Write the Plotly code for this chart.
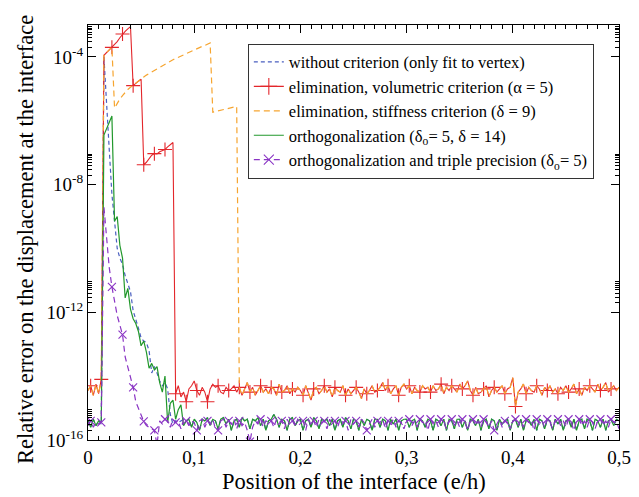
import plotly.graph_objects as go

# ---------------- data (log10 of relative error) ----------------
N_POINTS = 201
X_STEP = 0.0025
X = [round(X_STEP * i, 4) for i in range(N_POINTS)]

# noisy plateau of the two "elimination" variants (log10)
PLATEAU_LOG = [
    -14.45, -14.3, -14.6, -14.25, -14.55, -14.2, -14.35, -14.5, -14.4, -14.3,
    -14.5, -14.35, -14.6, -14.3, -14.45, -14.5, -14.25, -14.4, -14.55, -14.35,
    -14.4, -14.3, -14.5, -14.6, -14.35, -14.45, -14.3, -14.5, -14.4, -14.55,
    -14.4, -14.5, -14.45, -14.55, -14.3, -14.65, -14.5, -14.8, -14.4, -14.3,
    -14.15, -14.45, -14.6, -14.35, -14.5, -14.8, -14.4, -14.25, -14.35, -14.3,
    -14.5, -14.55, -14.35, -14.45, -14.4, -14.3, -14.5, -14.35, -14.6, -14.4,
    -14.2, -14.5, -14.35, -14.6, -14.45, -14.3, -14.5, -14.4, -14.55, -14.35,
    -14.4, -14.6, -14.25, -14.5, -14.45, -14.3, -14.55, -14.4, -14.5, -14.35,
    -14.45, -14.6, -14.3, -14.5, -14.75, -14.4, -14.35, -14.55, -14.45, -14.3,
    -14.5, -14.4, -14.65, -14.35, -14.45, -14.5, -14.3, -14.6, -14.4, -14.55,
    -14.45, -14.35, -14.5, -14.7, -14.4, -14.55, -14.45, -14.3, -14.5, -14.45,
    -14.35, -14.2, -14.45, -14.3, -14.55, -14.4, -14.3, -14.6, -14.35, -14.25,
    -14.4, -14.3, -14.55, -14.35, -14.45, -14.5, -14.3, -14.4, -14.35, -14.5,
    -14.3, -14.45, -14.4, -14.25, -14.55, -14.35, -14.45, -14.3, -14.4, -14.5,
    -14.25, -14.4, -14.3, -14.15, -14.45, -14.6, -14.35, -14.55, -14.5, -14.4,
    -14.3, -14.65, -14.45, -14.35, -14.5, -14.4, -14.3, -14.55, -14.4, -14.35,
    -14.05, -14.95, -14.5, -14.4, -14.25, -14.55, -14.35, -14.45, -14.5, -14.3,
    -14.4, -14.6, -14.35, -14.45, -14.3, -14.5, -14.4, -14.55, -14.35, -14.45,
    -14.3, -14.5, -14.4, -14.25, -14.55, -14.4, -14.6, -14.35, -14.45, -14.3,
    -14.4, -14.5, -14.25, -14.45, -14.35, -14.2, -14.5, -14.4, -14.3, -14.45,
    -14.35,
]

# noisy floor of the orthogonalization (green) / no criterion (blue)
GREEN_FLOOR_LOG = [
    -15.4, -15.6, -15.35, -15.55, -15.4, -15.45, -15.4, -15.35, -15.5, -15.4,
    -15.4, -15.35, -15.5, -15.4, -15.45, -15.4, -15.35, -15.5, -15.4, -15.45,
    -15.4, -15.35, -15.5, -15.4, -15.45, -15.4, -15.35, -15.5, -15.4, -15.45,
    -15.4, -15.35, -15.5, -15.4, -15.45, -15.4, -15.35, -15.4, -15.35, -15.6,
    -15.35, -15.45, -15.7, -15.35, -15.4, -15.3, -15.55, -15.35, -15.4, -15.65,
    -15.35, -15.3, -15.5, -15.35, -15.7, -15.4, -15.35, -15.6, -15.3, -15.4,
    -15.35, -15.65, -15.35, -15.4, -15.3, -15.55, -15.35, -15.7, -15.4, -15.35,
    -15.2, -15.35, -15.6, -15.35, -15.4, -15.7, -15.35, -15.3, -15.55, -15.4,
    -15.35, -15.7, -15.4, -15.35, -15.6, -15.3, -15.4, -15.65, -15.35, -15.4,
    -15.35, -15.55, -15.35, -15.7, -15.4, -15.35, -15.6, -15.3, -15.4, -15.65,
    -15.35, -15.4, -15.7, -15.35, -15.55, -15.35, -15.4, -15.7, -15.35, -15.35,
    -15.6, -15.35, -15.4, -15.7, -15.35, -15.5, -15.35, -15.7, -15.4, -15.35,
    -15.35, -15.6, -15.4, -15.35, -15.7, -15.35, -15.4, -15.6, -15.35, -15.4,
    -15.7, -15.35, -15.4, -15.55, -15.35, -15.7, -15.35, -15.4, -15.65, -15.35,
    -15.35, -15.6, -15.4, -15.7, -15.35, -15.4, -15.55, -15.35, -15.7, -15.4,
    -15.35, -15.65, -15.35, -15.4, -15.7, -15.35, -15.5, -15.4, -15.35, -15.7,
    -15.4, -15.35, -15.6, -15.35, -15.7, -15.4, -15.35, -15.55, -15.35, -15.7,
    -15.35, -15.4, -15.65, -15.35, -15.4, -15.7, -15.35, -15.5, -15.35, -15.7,
    -15.4, -15.35, -15.6, -15.35, -15.7, -15.4, -15.35, -15.65, -15.35, -15.4,
    -15.7, -15.35, -15.4, -15.6, -15.35, -15.7, -15.4, -15.35, -15.55, -15.35,
    -15.4,
]

# noisy floor of orthogonalization + triple precision (purple)
PURPLE_FLOOR_LOG = [
    -15.55, -15.4, -15.6, -15.45, -15.5, -15.45, -15.4, -15.5, -15.4, -15.45,
    -15.4, -15.5, -15.4, -15.45, -15.4, -15.5, -15.4, -15.45, -15.4, -15.5,
    -15.4, -15.45, -15.4, -15.5, -15.4, -15.45, -15.4, -15.4, -15.5, -15.35,
    -15.4, -15.6, -15.35, -15.45, -15.4, -15.65, -15.35, -15.4, -15.55, -15.4,
    -15.45, -15.7, -15.4, -15.35, -15.6, -15.4, -15.5, -15.35, -15.65, -15.7,
    -15.4, -15.35, -15.6, -15.4, -15.5, -15.35, -15.65, -15.4, -15.55, -15.45,
    -15.7, -16.05, -15.6, -15.4, -15.5, -15.35, -15.6, -15.4, -15.45, -15.4,
    -15.6, -15.35, -15.45, -15.4, -15.65, -15.35, -15.5, -15.4, -15.55, -15.35,
    -15.45, -15.4, -15.7, -15.35, -15.5, -15.4, -15.6, -15.35, -15.45, -15.4,
    -15.65, -15.35, -15.5, -15.4, -15.6, -15.35, -15.45, -15.4, -15.7, -15.35,
    -15.5, -15.4, -15.6, -15.35, -15.45, -15.7, -15.5, -15.35, -15.6, -15.4,
    -15.45, -15.35, -15.65, -15.4, -15.5, -15.35, -15.6, -15.4, -15.45, -15.65,
    -15.4, -15.35, -15.55, -15.4, -15.6, -15.35, -15.45, -15.4, -15.7, -15.35,
    -15.5, -15.4, -15.6, -15.35, -15.45, -15.65, -15.4, -15.35, -15.55, -15.4,
    -15.6, -15.35, -15.45, -15.7, -15.4, -15.35, -15.55, -15.4, -15.6, -15.35,
    -15.45, -15.6, -15.4, -15.7, -15.5, -15.35, -15.6, -15.4, -15.45, -15.65,
    -15.4, -15.35, -15.55, -15.4, -15.6, -15.35, -15.45, -15.4, -15.7, -15.35,
    -15.5, -15.4, -15.6, -15.35, -15.45, -15.65, -15.4, -15.35, -15.55, -15.4,
    -15.6, -15.35, -15.45, -15.7, -15.4, -15.35, -15.55, -15.4, -15.6, -15.35,
    -15.45, -15.65, -15.4, -15.35, -15.55, -15.4, -15.6, -15.35, -15.45, -15.4,
    -15.65,
]

# transient parts near the vertex, indices 5.. of the grid
RED_PEAK_LOG = [  # i = 5..32
    -14.1, -3.95, -3.87, -3.79, -3.7, -3.62, -3.52, -3.4, -3.28, -3.2,
    -3.12, -3.05, -4.9, -4.82, -4.76, -4.7, -7.38, -7.3, -7.2, -7.08,
    -7.03, -7.04, -6.97, -6.93, -6.9, -6.82, -6.75, -6.68,
]
ORANGE_PEAK_LOG = [  # i = 5..56
    -14.1, -3.95, -3.87, -3.79, -3.7,
    -5.6, -5.45, -5.32, -5.21, -5.11, -5.02, -4.95, -4.88, -4.81, -4.75,
    -4.69, -4.63, -4.57, -4.52, -4.47, -4.42, -4.37, -4.32, -4.27, -4.22,
    -4.18, -4.13, -4.09, -4.05, -4.01, -3.97, -3.93, -3.89, -3.85, -3.81,
    -3.77, -3.74, -3.71, -3.67, -3.64, -3.6, -3.56,
    -5.73, -5.71, -5.69, -5.67, -5.65, -5.63, -5.61, -5.59, -5.57, -5.55,
]
GREEN_PEAK_LOG = [  # i = 5..36
    -15.45, -6.45, -6.25, -6.05, -5.85, -9.15, -9.0, -9.9, -10.3, -11.55,
    -11.25, -11.9, -12.2, -12.35, -12.6, -13.05, -12.9, -13.25, -13.75, -13.6,
    -13.8, -13.7, -14.2, -14.5, -14.0, -15.45, -14.85, -14.75, -15.35, -15.05,
    -14.9, -15.55,
]
BLUE_PEAK_LOG = [  # i = 5..31
    -15.5, -4.0, -5.3, -6.9, -8.3, -9.2, -10.0, -10.3, -10.5, -10.85,
    -11.1, -11.35, -11.95, -12.2, -12.5, -12.8, -12.9, -12.95, -13.2, -13.9,
    -13.7, -13.9, -14.15, -14.3, -14.2, -14.4, -15.2,
]
PURPLE_PEAK_LOG = [  # i = 5..27
    -15.45, -8.7, -9.7, -10.6, -11.2, -11.65, -12.1, -12.4, -12.7, -13.4,
    -13.7, -14.0, -14.35, -14.8, -15.0, -15.25, -15.42, -15.55, -15.6, -15.65,
    -15.7, -16.15, -15.4,
]

X_TICKS = [0, 0.1, 0.2, 0.3, 0.4, 0.5]
X_TICK_TEXT = ["0", "0,1", "0,2", "0,3", "0,4", "0,5"]
Y_TICK_EXP = [-16, -12, -8, -4]

NAMES = [
    "without criterion (only fit to vertex)",
    "elimination, volumetric criterion (α = 5)",
    "elimination, stiffness criterion (δ = 9)",
    "orthogonalization (δ<sub>o</sub>= 5, δ = 14)",
    "orthogonalization and triple precision (δ<sub>o</sub>= 5)",
]
COLORS = ["#4a5fc0", "#e3262b", "#f6a530", "#22982c", "#8a34c4"]
X_TITLE = "Position of the interface (e/h)"
Y_TITLE = "Relative error on the displacement at the interface"


def assemble(base, peak, start):
    return base[:start] + peak + base[start + len(peak):]


def to_val(logs):
    return [10 ** v for v in logs]


red = to_val(assemble(PLATEAU_LOG, RED_PEAK_LOG, 5))
orange = to_val(assemble(PLATEAU_LOG, ORANGE_PEAK_LOG, 5))
green = to_val(assemble(GREEN_FLOOR_LOG, GREEN_PEAK_LOG, 5))
blue = to_val(assemble(GREEN_FLOOR_LOG, BLUE_PEAK_LOG, 5))
purple = to_val(assemble(PURPLE_FLOOR_LOG, PURPLE_PEAK_LOG, 5))

MARK_START, MARK_EVERY = 1, 4

fig = go.Figure()

# blue dashed
fig.add_trace(go.Scatter(x=X, y=blue, mode="lines", name=NAMES[0],
                         line=dict(color=COLORS[0], width=1.2, dash="4px,3px")))
# red solid with + markers
fig.add_trace(go.Scatter(x=X, y=red, mode="lines", showlegend=False,
                         line=dict(color=COLORS[1], width=1.1)))
fig.add_trace(go.Scatter(x=X[MARK_START::MARK_EVERY], y=red[MARK_START::MARK_EVERY],
                         mode="markers", showlegend=False,
                         marker=dict(symbol="cross-thin", size=10,
                                     line=dict(color=COLORS[1], width=1.1))))
fig.add_trace(go.Scatter(x=[None], y=[None], mode="lines+markers", name=NAMES[1],
                         line=dict(color=COLORS[1], width=1.1),
                         marker=dict(symbol="cross-thin", size=12,
                                     line=dict(color=COLORS[1], width=1.1))))
# orange dashed
fig.add_trace(go.Scatter(x=X, y=orange, mode="lines", name=NAMES[2],
                         line=dict(color=COLORS[2], width=1.2, dash="6px,4px")))
# green solid
fig.add_trace(go.Scatter(x=X, y=green, mode="lines", name=NAMES[3],
                         line=dict(color=COLORS[3], width=1.2)))
# purple dashed with x markers
fig.add_trace(go.Scatter(x=X, y=purple, mode="lines", showlegend=False,
                         line=dict(color=COLORS[4], width=1.2, dash="6px,4px")))
fig.add_trace(go.Scatter(x=X[MARK_START::MARK_EVERY], y=purple[MARK_START::MARK_EVERY],
                         mode="markers", showlegend=False,
                         marker=dict(symbol="x-thin", size=8,
                                     line=dict(color=COLORS[4], width=1.1))))
fig.add_trace(go.Scatter(x=[None], y=[None], mode="lines+markers", name=NAMES[4],
                         line=dict(color=COLORS[4], width=1.2, dash="6px,4px"),
                         marker=dict(symbol="x-thin", size=10,
                                     line=dict(color=COLORS[4], width=1.1))))

FONT = "Liberation Serif, Times New Roman, serif"
y_minor = [k * 10.0 ** e for e in Y_TICK_EXP for k in range(2, 10)]

# the page body has an 8px margin: size the figure so the plot frame lands
# at x 88..619, y 25..440 of the 639x497 window
fig.update_layout(
    width=631, height=489,
    margin=dict(l=80, r=20, t=17, b=57),
    paper_bgcolor="white", plot_bgcolor="white",
    font=dict(family=FONT, size=19, color="black"),
    showlegend=True,
    legend=dict(x=0.301, y=0.955, xanchor="left", yanchor="top",
                bordercolor="#333333", borderwidth=1, bgcolor="white",
                font=dict(family=FONT, size=16.5), tracegroupgap=0),
    xaxis=dict(range=[0, 0.5], tickvals=X_TICKS, ticktext=X_TICK_TEXT,
               automargin=False,
               ticks="inside", ticklen=8, tickcolor="black", tickwidth=1,
               showline=True, linecolor="black", linewidth=1, mirror="allticks",
               showgrid=False, zeroline=False,
               minor=dict(dtick=0.01, tick0=0, ticks="inside", ticklen=4,
                          tickcolor="black", tickwidth=1, showgrid=False)),
    yaxis=dict(type="log", range=[-16, -3],
               automargin=False,
               tickvals=[10.0 ** e for e in Y_TICK_EXP],
               ticktext=["10<sup>%d</sup>" % e for e in Y_TICK_EXP],
               ticks="inside", ticklen=8, tickcolor="black", tickwidth=1,
               showline=True, linecolor="black", linewidth=1, mirror="allticks",
               showgrid=False, zeroline=False,
               minor=dict(tickvals=y_minor, ticks="inside", ticklen=4,
                          tickcolor="black", tickwidth=1, showgrid=False)),
    annotations=[
        dict(text=Y_TITLE, textangle=-90, xref="paper", yref="paper",
             x=-0.119, y=0.484, xanchor="center", yanchor="middle",
             showarrow=False, font=dict(family=FONT, size=22.5)),
        dict(text=X_TITLE, xref="paper", yref="paper",
             x=0.5, y=-0.101, xanchor="center", yanchor="middle",
             showarrow=False, font=dict(family=FONT, size=22.5)),
    ],
)

fig.write_html("out.html")
